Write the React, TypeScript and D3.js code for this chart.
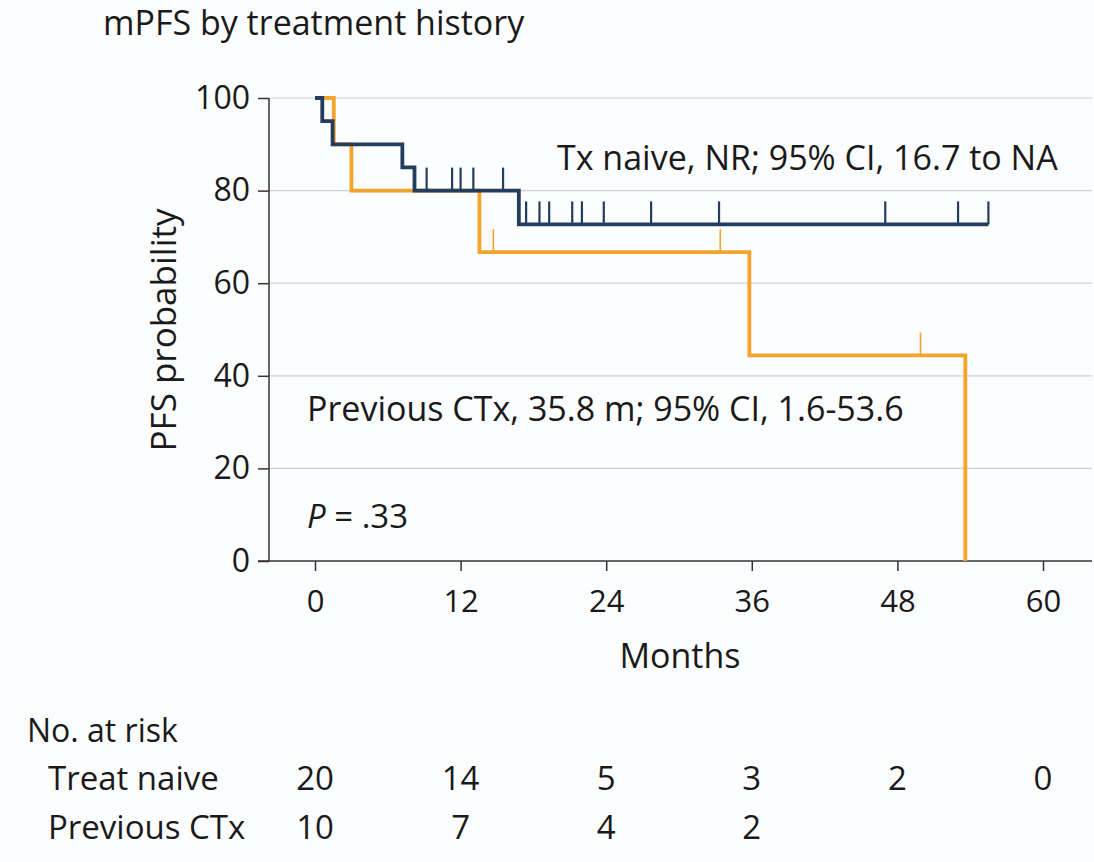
import { FC, useEffect, useRef } from 'react';
import * as d3 from 'd3';

// x ticks / y ticks
const monthTicks = [0, 12, 24, 36, 48, 60];
const pctTicks = [0, 20, 40, 60, 80, 100];
const gridTicks = [20, 40, 60, 80, 100];

// Tx naive curve (step after)
const naiveTimes = [0, 0.6, 1.45, 7.2, 8.2, 16.8, 55.5];
const naiveSurv = [100, 95, 90, 85, 80, 72.7, 72.7];
const naiveCensored = [9.2, 11.3, 12.0, 13.05, 15.5, 17.4, 18.5, 19.3, 21.2, 22.0, 23.8, 27.7, 33.3, 47.0, 53.0, 55.5];

// Previous CTx curve
const prevTimes = [0, 1.55, 3.0, 13.55, 35.8, 53.6];
const prevSurv = [100, 90, 80, 66.7, 44.4, 0];
const prevCensored = [14.7, 33.4, 49.9];

// numbers at risk
const riskMonths = [0, 12, 24, 36, 48, 60];
const naiveAtRisk = [20, 14, 5, 3, 2, 0];
const prevAtRisk = [10, 7, 4, 2];

const NAVY = '#233d5c';
const ORANGE = '#f2a42c';
const FONT = "'Open Sans', sans-serif";
const INK = '#1a1a1a';

const survAt = (times: number[], surv: number[], t: number) => {
  let s = surv[0];
  for (let i = 0; i < times.length; i++) if (times[i] <= t) s = surv[i];
  return s;
};

const App: FC = () => {
  const ref = useRef<SVGSVGElement>(null);

  useEffect(() => {
    const svg = d3.select(ref.current);
    svg.selectAll('*').remove();

    const x = d3.scaleLinear().domain([0, 60]).range([315, 1043]);
    const y = d3.scaleLinear().domain([0, 100]).range([561, 98]);
    const left = 269;
    const right = 1092;

    svg.append('rect').attr('width', 1094).attr('height', 862).attr('fill', '#fcfdfe');

    //grid
    svg
      .append('g')
      .selectAll('line')
      .data(gridTicks)
      .join('line')
      .attr('x1', left)
      .attr('x2', right)
      .attr('y1', (d) => y(d))
      .attr('y2', (d) => y(d))
      .attr('stroke', '#cdd0d4')
      .attr('stroke-width', 1.2);

    //y axis
    const yAxis = svg
      .append('g')
      .attr('transform', `translate(${left},0)`)
      .call(d3.axisLeft(y).tickValues(pctTicks).tickSize(11).tickPadding(8));
    yAxis.select('.domain').remove();
    yAxis.selectAll('line').attr('stroke', '#333').attr('stroke-width', 1.5);
    yAxis.selectAll('text').attr('font-family', FONT).attr('font-size', 32).attr('fill', INK);

    //x axis
    const xAxis = svg
      .append('g')
      .attr('transform', `translate(0,${y(0)})`)
      .call(d3.axisBottom(x).tickValues(monthTicks).tickSize(10).tickPadding(19));
    xAxis.select('.domain').remove();
    xAxis.selectAll('line').attr('stroke', '#333').attr('stroke-width', 1.5);
    xAxis.selectAll('text').attr('font-family', FONT).attr('font-size', 31).attr('fill', INK);

    svg.append('line').attr('x1', left).attr('x2', left).attr('y1', y(100)).attr('y2', y(0))
      .attr('stroke', '#333').attr('stroke-width', 1.5);
    svg.append('line').attr('x1', left - 11).attr('x2', right).attr('y1', y(0)).attr('y2', y(0))
      .attr('stroke', '#333').attr('stroke-width', 1.5);

    const line = d3
      .line<[number, number]>()
      .x((d) => x(d[0]))
      .y((d) => y(d[1]))
      .curve(d3.curveStepAfter);

    const drawCurve = (times: number[], surv: number[], censored: number[], color: string, tickW: number) => {
      svg
        .append('path')
        .datum(times.map((t, i) => [t, surv[i]] as [number, number]))
        .attr('fill', 'none')
        .attr('stroke', color)
        .attr('stroke-width', 3.8)
        .attr('stroke-linejoin', 'miter')
        .attr('d', line);
      svg
        .append('g')
        .selectAll('line')
        .data(censored)
        .join('line')
        .attr('x1', (d) => x(d))
        .attr('x2', (d) => x(d))
        .attr('y1', (d) => y(survAt(times, surv, d)))
        .attr('y2', (d) => y(survAt(times, surv, d)) - 23)
        .attr('stroke', color)
        .attr('stroke-width', tickW);
    };

    drawCurve(prevTimes, prevSurv, prevCensored, ORANGE, 1.6);
    drawCurve(naiveTimes, naiveSurv, naiveCensored, NAVY, 2.2);

    const text = (s: string, tx: number, ty: number, size: number, anchor = 'start') =>
      svg
        .append('text')
        .attr('x', tx)
        .attr('y', ty)
        .attr('font-family', FONT)
        .attr('font-size', size)
        .attr('fill', INK)
        .attr('text-anchor', anchor)
        .text(s);

    text('mPFS by treatment history', 103, 35, 34);
    text('Months', 680, 668, 34, 'middle');
    svg
      .append('text')
      .attr('transform', 'translate(176,330) rotate(-90)')
      .attr('font-family', FONT)
      .attr('font-size', 35)
      .attr('fill', INK)
      .attr('text-anchor', 'middle')
      .text('PFS probability');

    text('Tx naive, NR; 95% CI, 16.7 to NA', 557, 170, 34);
    text('Previous CTx, 35.8 m; 95% CI, 1.6-53.6', 307, 421, 34);
    const p = text('', 307, 528, 33);
    p.append('tspan').attr('font-style', 'italic').text('P');
    p.append('tspan').text(' = .33');

    // risk table
    text('No. at risk', 27, 742, 32);
    text('Treat naive', 48, 790, 33);
    text('Previous CTx', 48, 839, 33);
    naiveAtRisk.forEach((n, i) => text(String(n), x(riskMonths[i]), 790, 33, 'middle'));
    prevAtRisk.forEach((n, i) => text(String(n), x(riskMonths[i]), 839, 33, 'middle'));
  }, []);

  return (
    <svg
      ref={ref}
      width={1094}
      height={862}
      style={{ position: 'absolute', left: 0, top: 0, display: 'block' }}
    />
  );
};

export default App;
